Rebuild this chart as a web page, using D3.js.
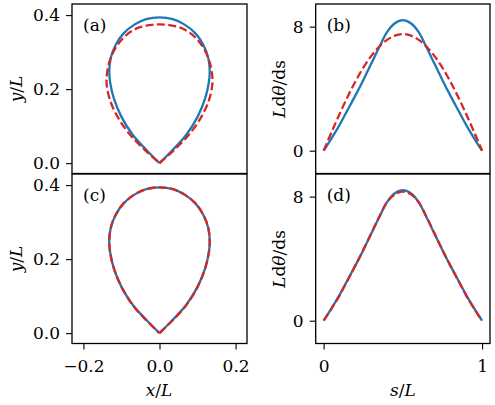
<!DOCTYPE html>
<html>
<head>
<meta charset="utf-8">
<script src="https://cdn.jsdelivr.net/npm/d3@7"></script>
<style>
  body { margin: 0; background: #fff; }
  svg text { font-family: "DejaVu Serif", "Liberation Serif", serif; fill: #000; }
</style>
</head>
<body>
<div id="chart"></div>
<script>
// arc length along the curve
const sGrid = [0, 0.05, 0.1, 0.15, 0.2, 0.25, 0.3, 0.35, 0.4, 0.45, 0.5,
               0.55, 0.6, 0.65, 0.7, 0.75, 0.8, 0.85, 0.9, 0.95, 1];
// curvature, target (blue) and the two fits (red)
const kTarget = [0, 0.8, 1.65, 2.6, 3.55, 4.55, 5.6, 6.65, 7.65, 8.22, 8.42,
                 8.22, 7.65, 6.65, 5.6, 4.55, 3.55, 2.6, 1.65, 0.8, 0];
const kFitB = [0, 1.2, 2.35, 3.45, 4.45, 5.35, 6.1, 6.7, 7.15, 7.42, 7.52,
               7.42, 7.15, 6.7, 6.1, 5.35, 4.45, 3.45, 2.35, 1.2, 0];
const kFitD = [0, 0.78, 1.62, 2.58, 3.55, 4.56, 5.62, 6.68, 7.64, 8.15, 8.32,
               8.15, 7.64, 6.68, 5.62, 4.56, 3.55, 2.58, 1.62, 0.78, 0];

// shapes, from the tip round over the top and back
const targetX = [0, 0.035, 0.07, 0.10, 0.12, 0.13, 0.132, 0.128, 0.115, 0.095, 0.065, 0.035, 0,
                 -0.035, -0.065, -0.095, -0.115, -0.128, -0.132, -0.13, -0.12, -0.10, -0.07, -0.035, 0];
const targetY = [0, 0.036, 0.076, 0.125, 0.175, 0.22, 0.25, 0.285, 0.32, 0.35, 0.375, 0.389, 0.394,
                 0.389, 0.375, 0.35, 0.32, 0.285, 0.25, 0.22, 0.175, 0.125, 0.076, 0.036, 0];
const fitAX = [0, 0.04, 0.08, 0.11, 0.13, 0.139, 0.137, 0.128, 0.11, 0.085, 0.055, 0.025, 0,
               -0.025, -0.055, -0.085, -0.11, -0.128, -0.137, -0.139, -0.13, -0.11, -0.08, -0.04, 0];
const fitAY = [0, 0.037, 0.08, 0.125, 0.17, 0.215, 0.25, 0.285, 0.32, 0.348, 0.366, 0.373, 0.375,
               0.373, 0.366, 0.348, 0.32, 0.285, 0.25, 0.215, 0.17, 0.125, 0.08, 0.037, 0];
const fitCX = [0, 0.035, 0.07, 0.10, 0.12, 0.13, 0.132, 0.128, 0.115, 0.095, 0.065, 0.035, 0,
               -0.035, -0.065, -0.095, -0.115, -0.128, -0.132, -0.13, -0.12, -0.10, -0.07, -0.035, 0];
const fitCY = [0, 0.035, 0.075, 0.125, 0.175, 0.22, 0.25, 0.285, 0.32, 0.35, 0.375, 0.389, 0.394,
               0.389, 0.375, 0.35, 0.32, 0.285, 0.25, 0.22, 0.175, 0.125, 0.075, 0.035, 0];

const xTicks = [-0.2, 0.0, 0.2];
const yTicks = [0.0, 0.2, 0.4];
const sTicks = [0, 1];
const kTicks = [0, 8];

const blue = '#1f77b4', red = '#d62728';
const lw = 2.3;
const dash = '8,3.4';

const svg = d3.select('#chart').append('svg')
    .attr('width', 495)
    .attr('height', 405);

const fmt1 = d => (d < 0 ? '\u2212' : '') + Math.abs(d).toFixed(1);

// left column scales
const xScale = d3.scaleLinear().domain([-0.23, 0.23]).range([72, 247]);
const yTop = d3.scaleLinear().domain([-0.028, 0.43]).range([173.5, 4]);
const yBot = d3.scaleLinear().domain([-0.028, 0.43]).range([343.5, 174]);
// right column scales
const sScale = d3.scaleLinear().domain([-0.05, 1.05]).range([315.7, 490]);
const kTop = d3.scaleLinear().domain([-1.47, 9.46]).range([173.5, 4]);
const kBot = d3.scaleLinear().domain([-1.47, 9.46]).range([343.5, 174]);

function panel(x, y, opts) {
    const g = svg.append('g');
    const [x0, x1] = x.range();
    const [y0, y1] = y.range();

    // y ticks
    const ya = d3.axisLeft(y).tickValues(opts.yTicks).tickFormat(opts.yFmt)
        .tickSize(6).tickPadding(6);
    g.append('g').attr('transform', `translate(${x0},0)`).call(ya)
        .call(a => a.select('.domain').remove())
        .call(a => a.selectAll('line').attr('stroke', '#000').attr('stroke-width', 1.1))
        .call(a => a.selectAll('text').style('font-family', '"DejaVu Serif", serif')
            .style('font-size', '17px').attr('fill', '#000'));

    if (opts.xTicks) {
        const xa = d3.axisBottom(x).tickValues(opts.xTicks).tickFormat(opts.xFmt)
            .tickSize(6).tickPadding(10);
        g.append('g').attr('transform', `translate(0,${y0})`).call(xa)
            .call(a => a.select('.domain').remove())
            .call(a => a.selectAll('line').attr('stroke', '#000').attr('stroke-width', 1.1))
            .call(a => a.selectAll('text').style('font-family', '"DejaVu Serif", serif')
                .style('font-size', '17px').attr('fill', '#000'));
    }

    const clipId = 'clip' + opts.label;
    svg.append('clipPath').attr('id', clipId)
        .append('rect').attr('x', x0).attr('y', y1).attr('width', x1 - x0).attr('height', y0 - y1);
    const plot = g.append('g').attr('clip-path', `url(#${clipId})`);

    const line = d3.line().x(d => x(d[0])).y(d => y(d[1])).curve(d3.curveCatmullRom.alpha(0.5));
    plot.append('path')
        .datum(opts.blue)
        .attr('d', line)
        .attr('fill', 'none')
        .attr('stroke', blue)
        .attr('stroke-width', lw)
        .attr('stroke-linejoin', 'round');
    plot.append('path')
        .datum(opts.red)
        .attr('d', line)
        .attr('fill', 'none')
        .attr('stroke', red)
        .attr('stroke-width', lw)
        .attr('stroke-dasharray', dash)
        .attr('stroke-linejoin', 'round');

    g.append('rect')
        .attr('x', x0).attr('y', y1)
        .attr('width', x1 - x0).attr('height', y0 - y1)
        .attr('fill', 'none').attr('stroke', '#000').attr('stroke-width', 1.3);

    g.append('text')
        .attr('x', x0 + 11).attr('y', y1 + 27)
        .style('font-size', '17px')
        .text(`(${opts.label})`);
}

const zip = (a, b) => a.map((v, i) => [v, b[i]]);

panel(xScale, yTop, {
    label: 'a', yTicks: yTicks, yFmt: fmt1,
    blue: zip(targetX, targetY), red: zip(fitAX, fitAY)
});
panel(xScale, yBot, {
    label: 'c', yTicks: yTicks, yFmt: fmt1, xTicks: xTicks, xFmt: fmt1,
    blue: zip(targetX, targetY), red: zip(fitCX, fitCY)
});
panel(sScale, kTop, {
    label: 'b', yTicks: kTicks, yFmt: d3.format('d'),
    blue: zip(sGrid, kTarget), red: zip(sGrid, kFitB)
});
panel(sScale, kBot, {
    label: 'd', yTicks: kTicks, yFmt: d3.format('d'), xTicks: sTicks, xFmt: d3.format('d'),
    blue: zip(sGrid, kTarget), red: zip(sGrid, kFitD)
});

// axis titles
function yTitle(cx, cy, parts) {
    const t = svg.append('text')
        .attr('transform', `translate(${cx},${cy}) rotate(-90)`)
        .attr('text-anchor', 'middle')
        .attr('dominant-baseline', 'central')
        .style('font-size', '17px');
    parts.forEach(p => t.append('tspan').style('font-style', p[1] ? 'italic' : 'normal').text(p[0]));
}
function xTitle(cx, cy, parts) {
    const t = svg.append('text')
        .attr('x', cx).attr('y', cy)
        .attr('text-anchor', 'middle')
        .attr('dominant-baseline', 'central')
        .style('font-size', '17px');
    parts.forEach(p => t.append('tspan').style('font-style', p[1] ? 'italic' : 'normal').text(p[0]));
}

yTitle(16, 89, [['y', true], ['/', false], ['L', true]]);
yTitle(16, 259, [['y', true], ['/', false], ['L', true]]);
yTitle(279, 89, [['L', true], ['d', false], ['\u03b8', true], ['/ds', false]]);
yTitle(279, 259, [['L', true], ['d', false], ['\u03b8', true], ['/ds', false]]);
xTitle(159, 390, [['x', true], ['/', false], ['L', true]]);
xTitle(403, 390, [['s', true], ['/', false], ['L', true]]);
</script>
</body>
</html>
